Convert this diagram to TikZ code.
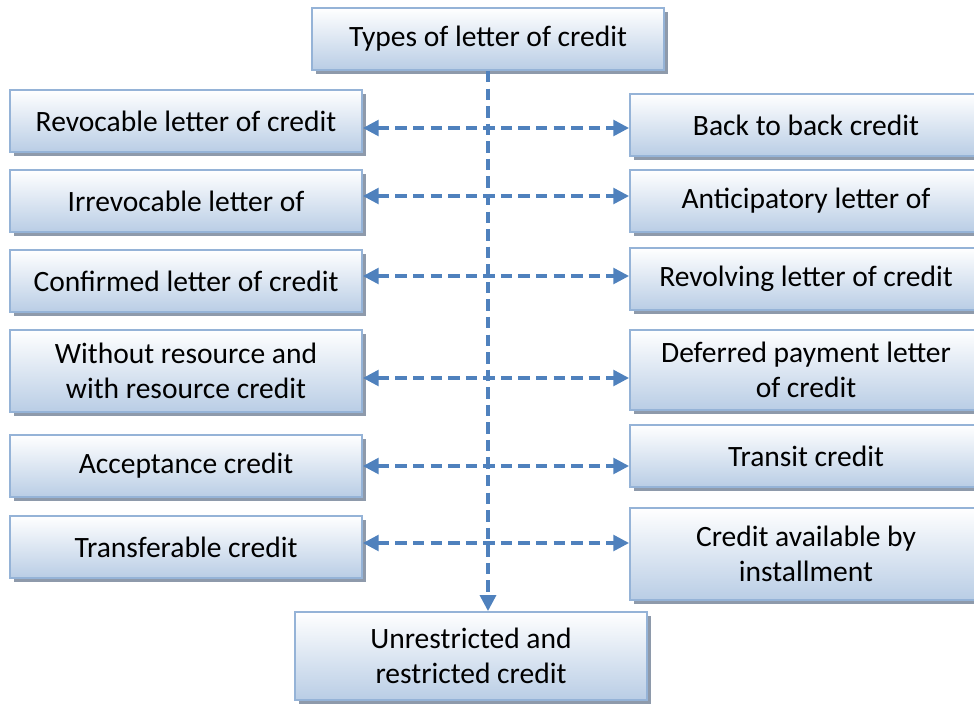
\documentclass[tikz,border=0pt]{standalone}
\usepackage{fontspec}
\setmainfont{Carlito}
\usetikzlibrary{arrows.meta, shadows}
\definecolor{BoxLine}{HTML}{95B3D7}
\definecolor{BoxLow}{HTML}{B9CDE5}
\definecolor{ShadowGray}{HTML}{8E9AAB}
\definecolor{ArrowBlue}{HTML}{4F81BD}

\begin{document}
\begin{tikzpicture}[
    x=0.02cm,
    y=-0.02cm,
    font=\fontsize{16.8}{20}\selectfont,
    typebox/.style={draw=BoxLine, line width=1.1pt, top color=white, bottom color=BoxLow,
        minimum width=7.04cm, minimum height=1.24cm, align=center, inner sep=2pt,
        drop shadow={shadow xshift=0.08cm, shadow yshift=-0.08cm, fill=ShadowGray, opacity=1}},
    link/.style={{Triangle[width=9pt,length=9pt]}-{Triangle[width=9pt,length=9pt]}, draw=ArrowBlue, line width=1.9pt, dash pattern=on 6.5pt off 3.5pt},
    down/.style={-{Triangle[width=9pt,length=9pt]}, draw=ArrowBlue, line width=1.9pt, dash pattern=on 6.5pt off 3.5pt}
]

\useasboundingbox (0,0) rectangle (974,704);

\node[typebox] (types) at (488,39) {Types of letter of credit};

% left column
\node[typebox] (revocable) at (186,121) {Revocable letter of credit};
\node[typebox] (irrevocable) at (186,201) {Irrevocable letter of};
\node[typebox] (confirmed) at (186,281) {Confirmed letter of credit};
\node[typebox, minimum height=1.64cm] (recourse) at (186,371) {Without resource and\\with resource credit};
\node[typebox] (acceptance) at (186,466) {Acceptance credit};
\node[typebox] (transferable) at (186,547) {Transferable credit};

% right column
\node[typebox] (backtoback) at (806,125) {Back to back credit};
\node[typebox] (anticipatory) at (806,201) {Anticipatory letter of};
\node[typebox] (revolving) at (806,279) {Revolving letter of credit};
\node[typebox, minimum height=1.6cm] (deferred) at (806,370) {Deferred payment letter\\of credit};
\node[typebox] (transit) at (806,456) {Transit credit};
\node[typebox, minimum height=1.84cm] (installment) at (806,554) {Credit available by\\installment};

\node[typebox, minimum height=1.76cm] (unrestricted) at (471,656) {Unrestricted and\\restricted credit};

\draw[down] (types.south) -- (types.south |- unrestricted.north);

\draw[link] ([yshift=-0.14cm]revocable.east) -- ([yshift=-0.14cm]revocable.east -| backtoback.west);
\draw[link] ([yshift=0.1cm]irrevocable.east) -- ([yshift=0.1cm]irrevocable.east -| anticipatory.west);
\draw[link] ([yshift=0.1cm]confirmed.east) -- ([yshift=0.1cm]confirmed.east -| revolving.west);
\draw[link] ([yshift=-0.14cm]recourse.east) -- ([yshift=-0.14cm]recourse.east -| deferred.west);
\draw[link] (acceptance.east) -- (acceptance.east -| transit.west);
\draw[link] ([yshift=0.08cm]transferable.east) -- ([yshift=0.08cm]transferable.east -| installment.west);

\end{tikzpicture}
\end{document}
